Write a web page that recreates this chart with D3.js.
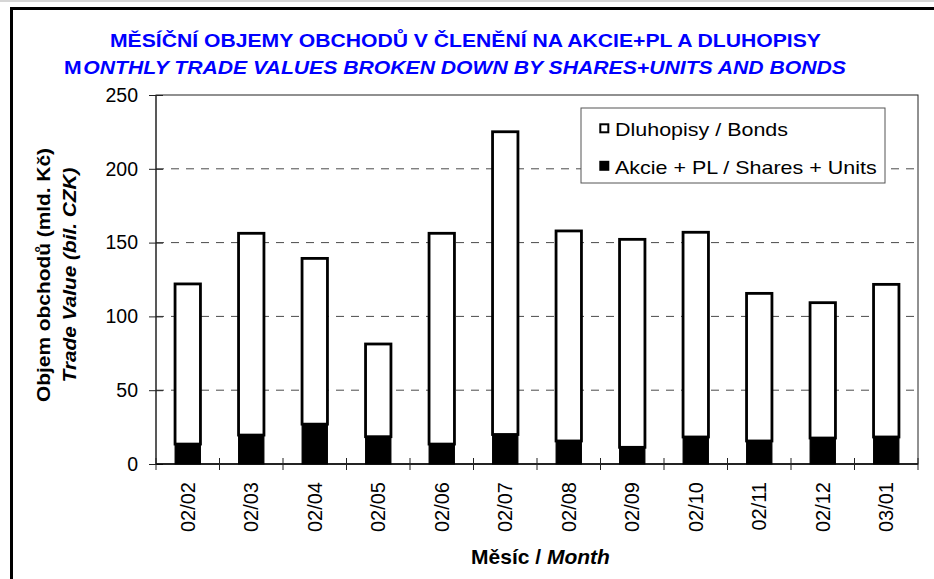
<!DOCTYPE html>
<html>
<head>
<meta charset="utf-8">
<script src="https://cdn.jsdelivr.net/npm/d3@7"></script>
<style>
  body { margin: 0; background: #fff; }
  svg { display: block; font-family: "Liberation Sans", Arial, sans-serif; }
</style>
</head>
<body>
<svg id="chart" width="934" height="579"></svg>
<script>
// data (mld. Kč)
var months = ["02/02", "02/03", "02/04", "02/05", "02/06", "02/07",
              "02/08", "02/09", "02/10", "02/11", "02/12", "03/01"];
var shares = [13.5, 19.6, 27.0, 18.5, 13.5, 20.0, 15.6, 11.3, 18.3, 15.6, 17.6, 18.3];
var bonds  = [108.5, 136.7, 112.3, 62.8, 142.8, 205.1, 142.3, 140.9, 138.7, 100.0, 91.7, 103.4];
var yTicks = [0, 50, 100, 150, 200, 250];
var seriesNames = ["Dluhopisy / Bonds", "Akcie + PL / Shares + Units"];
var titleCz = "MĚSÍČNÍ OBJEMY OBCHODŮ V ČLENĚNÍ NA AKCIE+PL A DLUHOPISY";
var titleEnFirst = "M";
var titleEnRest = "ONTHLY TRADE VALUES BROKEN DOWN BY SHARES+UNITS AND BONDS";
var yTitleCz = "Objem obchodů (mld. Kč)";
var yTitleEn = "Trade Value (bil. CZK)";
var xTitleCz = "Měsíc / ";
var xTitleEn = "Month";

var svg = d3.select("#chart");

var plot = {left: 156, right: 918, top: 95, bottom: 464};

// stretch a text horizontally to a given width (the original glyphs are wider)
function fitText(sel, w) {
  var bw = sel.node().getBBox().width;
  sel.attr("transform", "scale(" + (w / bw) + ",1)");
}
function stretchText(sel, k) {
  sel.attr("transform", "scale(" + k + ",1)");
}

// page frame
svg.append("rect")
  .attr("x", 0).attr("y", 0).attr("width", 934).attr("height", 2)
  .attr("fill", "#d6d6d6");
svg.append("rect")
  .attr("x", 11.5).attr("y", 8.5).attr("width", 1000).attr("height", 1000)
  .attr("fill", "none").attr("stroke", "#000").attr("stroke-width", 3);

// titles
var t1 = svg.append("g").attr("transform", "translate(110,46.7)")
  .append("text")
    .attr("font-size", 18.5).attr("font-weight", "bold").attr("fill", "#0000ff")
    .text(titleCz);
fitText(t1, 712);

var t2 = svg.append("g").attr("transform", "translate(64,74)")
  .append("text")
    .attr("font-size", 18.5).attr("font-weight", "bold").attr("fill", "#0000ff");
t2.append("tspan").text(titleEnFirst);
t2.append("tspan").attr("dx", 1.5).attr("font-style", "italic").text(titleEnRest);
fitText(t2, 783);

var x = d3.scaleBand()
  .domain(months)
  .range([plot.left, plot.right])
  .paddingInner(0.6)
  .paddingOuter(0.3);

var y = d3.scaleLinear()
  .domain([0, 250])
  .range([plot.bottom, plot.top]);

// gridlines
svg.append("g").selectAll("line")
  .data(yTicks.filter(function(d) { return d > 0 && d < 250; }))
  .enter().append("line")
    .attr("x1", plot.left).attr("x2", plot.right)
    .attr("y1", function(d) { return y(d); })
    .attr("y2", function(d) { return y(d); })
    .attr("stroke", "#4a4a4a")
    .attr("stroke-dasharray", "8,7");

// plot frame
svg.append("rect")
  .attr("x", plot.left).attr("y", plot.top)
  .attr("width", plot.right - plot.left).attr("height", plot.bottom - plot.top)
  .attr("fill", "none").attr("stroke", "#222").attr("stroke-width", 1);

// stacked bars
var rows = months.map(function(m, i) {
  return {month: m, shares: shares[i], bonds: bonds[i]};
});
var stacked = d3.stack().keys(["shares", "bonds"])(rows);

var layers = svg.append("g").selectAll("g")
  .data(stacked)
  .enter().append("g")
    .attr("fill", function(d) { return d.key == "shares" ? "#000" : "#fff"; })
    .attr("stroke", "#000")
    .attr("stroke-width", function(d) { return d.key == "shares" ? 1 : 2.8; });

layers.selectAll("rect")
  .data(function(d) { return d; })
  .enter().append("rect")
    .attr("x", function(d) { return x(d.data.month); })
    .attr("width", x.bandwidth())
    .attr("y", function(d) { return y(d[1]); })
    .attr("height", function(d) { return y(d[0]) - y(d[1]); });

// y axis
var yAxisG = svg.append("g")
  .attr("transform", "translate(" + plot.left + ",0)")
  .call(d3.axisLeft(y).tickValues(yTicks).tickSize(7).tickPadding(11));
yAxisG.select(".domain").remove();
yAxisG.selectAll(".tick line").attr("x2", 7).attr("x1", -7).attr("stroke", "#222");
yAxisG.selectAll(".tick text")
  .attr("font-size", 19.5).attr("font-family", "Liberation Sans, Arial, sans-serif").attr("fill", "#000");
yAxisG.append("line")
  .attr("y1", plot.top).attr("y2", plot.bottom)
  .attr("stroke", "#222");

// x axis
var xAxisG = svg.append("g")
  .attr("transform", "translate(0," + plot.bottom + ")")
  .call(d3.axisBottom(x).tickSize(0));
xAxisG.select(".domain").remove();
xAxisG.selectAll(".tick text")
  .attr("font-size", 20).attr("font-family", "Liberation Sans, Arial, sans-serif").attr("fill", "#000")
  .attr("transform", "rotate(-90)")
  .attr("text-anchor", "end")
  .attr("x", -18).attr("y", 0).attr("dy", "0.35em");
xAxisG.append("line")
  .attr("x1", plot.left).attr("x2", plot.right)
  .attr("stroke", "#000").attr("stroke-width", 1.5);
var bounds = d3.range(months.length + 1).map(function(i) { return plot.left + i * x.step(); });
xAxisG.selectAll(".bound")
  .data(bounds)
  .enter().append("line")
    .attr("class", "bound")
    .attr("x1", function(d) { return d; }).attr("x2", function(d) { return d; })
    .attr("y1", -6).attr("y2", 6)
    .attr("stroke", "#222");

// y title
var yt1 = svg.append("g").attr("transform", "translate(50,275) rotate(-90)")
  .append("text")
    .attr("text-anchor", "middle").attr("font-size", 19).attr("font-weight", "bold")
    .text(yTitleCz);
fitText(yt1, 254);
var yt2 = svg.append("g").attr("transform", "translate(76,275) rotate(-90)")
  .append("text")
    .attr("text-anchor", "middle").attr("font-size", 19).attr("font-weight", "bold")
    .attr("font-style", "italic")
    .text(yTitleEn);
fitText(yt2, 215);

// x title
var xt = svg.append("g").attr("transform", "translate(540.5,564)")
  .append("text")
    .attr("text-anchor", "middle").attr("font-size", 19.5).attr("font-weight", "bold");
xt.append("tspan").text(xTitleCz);
xt.append("tspan").attr("font-style", "italic").text(xTitleEn);
fitText(xt, 139);

// legend
var legend = svg.append("g").attr("transform", "translate(581,108)");
legend.append("rect")
  .attr("width", 304).attr("height", 75)
  .attr("fill", "#fff").attr("stroke", "#555");

var items = legend.selectAll(".item")
  .data(seriesNames)
  .enter().append("g")
    .attr("class", "item")
    .attr("transform", function(d, i) { return "translate(0," + (20 + i * 37.5) + ")"; });

items.append("rect")
  .attr("x", function(d, i) { return i == 0 ? 19.3 : 18.3; })
  .attr("y", function(d, i) { return i == 0 ? -3.7 : -4.7; })
  .attr("width", function(d, i) { return i == 0 ? 8 : 10; })
  .attr("height", function(d, i) { return i == 0 ? 8 : 10; })
  .attr("fill", function(d, i) { return i == 0 ? "#fff" : "#000"; })
  .attr("stroke", "#000")
  .attr("stroke-width", function(d, i) { return i == 0 ? 2 : 0; });

items.append("g").attr("transform", "translate(34,8)")
  .append("text")
    .attr("font-size", 19)
    .text(function(d) { return d; })
    .each(function() { stretchText(d3.select(this), 1.13); });
</script>
</body>
</html>
